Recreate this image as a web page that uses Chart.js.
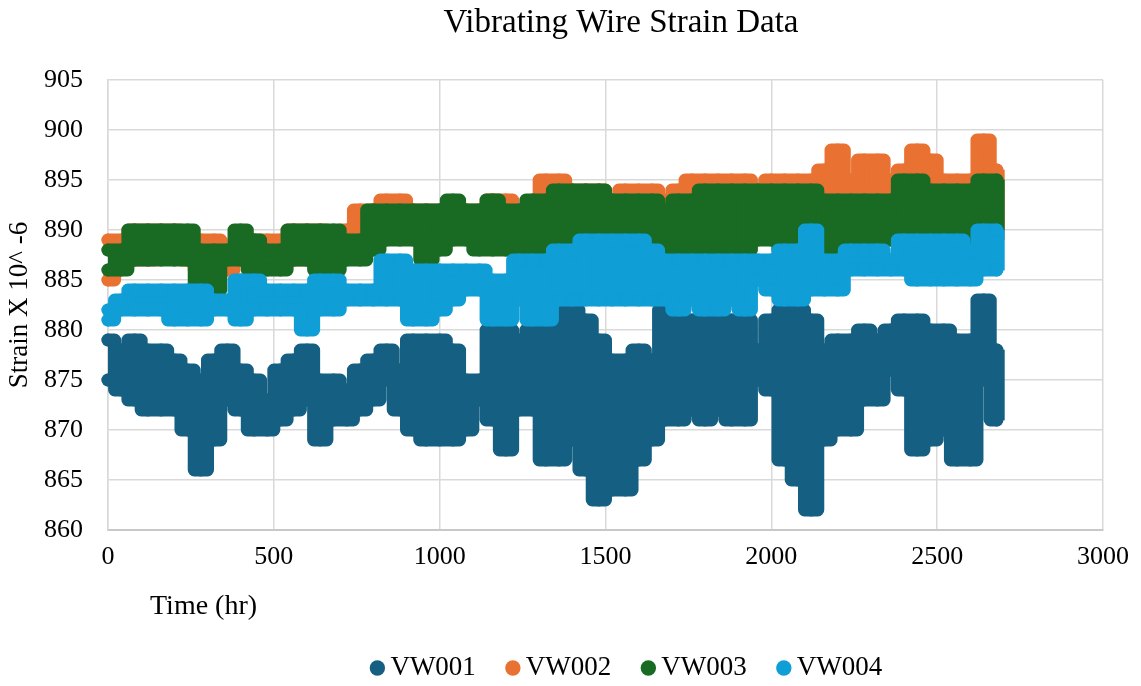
<!DOCTYPE html>
<html><head><meta charset="utf-8">
<script src="https://cdn.jsdelivr.net/npm/chart.js@4.4.1/dist/chart.umd.min.js"></script>
<style>html,body{margin:0;padding:0;background:#fff;}canvas{display:block;}</style>
</head><body>
<canvas id="c" width="1141" height="686"></canvas>
<script>
const chartTitle = 'Vibrating Wire Strain Data';
const xTitle = 'Time (hr)';
const yTitle = 'Strain X 10^ -6';
const seriesNames = ['VW001', 'VW002', 'VW003', 'VW004'];

// time (hr) of each envelope reading
const timeHr = [
0,40,80,120,160,200,240,280,320,360,
400,440,480,520,560,600,640,680,720,760,
800,840,880,920,960,1000,1040,1080,1120,1160,
1200,1240,1280,1320,1360,1400,1440,1480,1520,1560,
1600,1640,1680,1720,1760,1800,1840,1880,1920,1960,
2000,2040,2080,2120,2160,2200,2240,2280,2320,2360,
2400,2440,2480,2520,2560,2600,2640,2680];

// upper / lower readings of each gauge around each time
const vw001High = [
879,878,879,878,878,877,876,875,877,878,
876,875,873,876,877,878,875,875,874,876,
877,878,876,879,879,879,878,875,875,880,
880,879,880,881,882,882,881,879,877,877,
878,877,882,881,881,881,881,881,881,878,
881,882,882,881,878,879,879,880,879,880,
881,881,880,880,879,879,883,878];
const vw001Low = [
875,874,873,872,872,872,870,866,869,873,
872,870,870,871,872,873,869,871,871,872,
873,875,872,870,869,869,869,870,873,871,
868,872,872,867,867,869,866,863,864,864,
867,869,871,871,872,871,872,871,871,875,
874,867,865,862,869,870,870,873,873,876,
874,868,869,870,867,867,875,871];

const vw002High = [
889,889,890,890,890,890,889,889,889,888,
889,889,889,889,890,890,890,889,890,892,
892,893,893,892,892,892,892,892,892,893,
893,892,892,895,895,894,894,894,893,894,
894,894,893,894,895,895,895,895,895,894,
895,895,895,895,896,898,895,897,897,895,
896,898,897,895,895,895,899,896];
const vw002Low = [
885,887,887,887,888,888,887,886,886,886,
887,887,887,888,887,887,888,888,888,889,
889,890,890,890,889,889,890,890,890,890,
889,889,889,890,890,890,889,890,890,890,
890,890,889,890,890,890,890,890,890,891,
891,890,890,890,891,891,890,891,891,892,
891,892,891,891,891,890,891,889];

const vw003High = [
888,888,890,890,890,890,890,888,888,888,
890,889,888,888,890,890,890,890,889,889,
892,892,892,892,892,892,893,892,892,893,
892,892,893,893,894,894,894,894,893,893,
893,893,892,893,893,894,894,894,894,894,
894,894,894,894,893,893,893,893,893,893,
895,895,894,894,894,894,895,895];
const vw003Low = [
886,886,887,887,887,887,887,884,884,887,
887,886,886,886,887,887,886,886,887,887,
888,889,889,889,887,888,889,889,888,888,
888,888,887,887,888,888,888,888,889,889,
889,889,888,888,888,888,888,888,888,889,
889,888,888,889,888,888,887,889,889,889,
890,890,890,890,890,888,890,890];

const vw004High = [
882,883,884,884,884,884,884,884,883,883,
885,885,884,884,884,884,885,885,884,884,
884,887,887,886,886,886,886,886,886,885,
885,887,887,887,888,888,889,889,889,889,
889,888,887,887,887,887,887,887,887,887,
887,888,888,890,887,887,888,888,888,887,
889,889,889,889,889,888,890,890];
const vw004Low = [
881,882,882,882,882,881,881,881,882,882,
881,882,882,882,882,880,882,882,883,883,
883,883,883,881,881,882,883,884,884,881,
881,883,881,881,883,883,883,883,883,883,
883,883,883,882,883,882,882,883,882,885,
884,883,883,884,884,884,886,886,886,886,
886,885,885,885,885,885,886,886];

const xTicks = [0, 500, 1000, 1500, 2000, 2500, 3000];
const yTicks = [860, 865, 870, 875, 880, 885, 890, 895, 900, 905];

const colors = ['#156082', '#E97132', '#196B24', '#0F9ED5'];
const highs = [vw001High, vw002High, vw003High, vw004High];
const lows = [vw001Low, vw002Low, vw003Low, vw004Low];
const FONT = '"Liberation Serif", "Times New Roman", serif';

const datasets = [];
seriesNames.forEach((name, i) => {
  const lineBase = {
    type: 'line',
    showLine: true,
    stepped: 'middle',
    fill: false,
    borderColor: colors[i],
    backgroundColor: colors[i],
    borderWidth: 13,
    borderJoinStyle: 'round',
    borderCapStyle: 'round',
    pointRadius: 6.5,
    pointBorderWidth: 0,
    pointBackgroundColor: colors[i],
    pointHoverRadius: 6.5,
    clip: false
  };
  // spread of readings between the low and high envelope
  datasets.push({
    type: 'bar',
    label: name + ' range',
    data: timeHr.map((t, k) => ({x: t, y: [lows[i][k], highs[i][k]]})),
    backgroundColor: colors[i],
    borderWidth: 0,
    borderSkipped: false,
    grouped: false,
    barThickness: 15,
    order: 12 - 3 * i
  });
  datasets.push(Object.assign({}, lineBase, {
    label: name + ' low',
    data: timeHr.map((t, k) => ({x: t, y: lows[i][k]})),
    order: 11 - 3 * i
  }));
  datasets.push(Object.assign({}, lineBase, {
    label: name,
    data: timeHr.map((t, k) => ({x: t, y: highs[i][k]})),
    order: 10 - 3 * i
  }));
});

const decorations = {
  id: 'decorations',
  afterDraw(chart) {
    const ctx = chart.ctx, a = chart.chartArea;
    ctx.save();
    ctx.fillStyle = '#000';
    ctx.font = '33px ' + FONT;
    ctx.textAlign = 'center';
    ctx.textBaseline = 'middle';
    ctx.fillText(chartTitle, 621, 23);
    ctx.font = '28px ' + FONT;
    ctx.textAlign = 'left';
    ctx.fillText(xTitle, a.left + 42, a.bottom + 77);
    ctx.font = '27px ' + FONT;
    const r = 7.7, gapText = 13, gapItem = 37;
    const widths = seriesNames.map(n => ctx.measureText(n).width);
    let total = r;
    widths.forEach((w, i) => { total += gapText + w + (i < widths.length - 1 ? gapItem : 0); });
    let x = 626 - total / 2 + r;
    const ly = 668;
    seriesNames.forEach((n, i) => {
      ctx.fillStyle = colors[i];
      ctx.beginPath(); ctx.arc(x, ly, r, 0, Math.PI * 2); ctx.fill();
      ctx.fillStyle = '#000';
      ctx.fillText(n, x + gapText, ly);
      x += gapText + widths[i] + gapItem;
    });
    ctx.font = '27px ' + FONT;
    ctx.translate(20, (a.top + a.bottom) / 2);
    ctx.rotate(-Math.PI / 2);
    ctx.textAlign = 'center';
    ctx.fillText(yTitle, 0, 0);
    ctx.restore();
  }
};

new Chart(document.getElementById('c'), {
  type: 'line',
  data: { datasets },
  plugins: [decorations],
  options: {
    responsive: false,
    animation: false,
    devicePixelRatio: 1,
    layout: { padding: { left: 0, right: 34, top: 80, bottom: 0 } },
    plugins: {
      title: { display: false },
      legend: { display: false },
      tooltip: { enabled: false }
    },
    scales: {
      x: {
        type: 'linear', min: 0, max: 3000, offset: false,
        afterBuildTicks: s => { s.ticks = xTicks.map(v => ({value: v})); },
        afterFit: s => { s.height = 156; },
        grid: { color: '#d9d9d9', lineWidth: 1.5, drawTicks: false, offset: false },
        border: { color: '#c8c8c8', width: 2 },
        ticks: { color: '#000', padding: 12, font: { family: FONT, size: 26 }, maxRotation: 0,
                 callback: v => String(v) }
      },
      y: {
        type: 'linear', min: 860, max: 905,
        afterBuildTicks: s => { s.ticks = yTicks.map(v => ({value: v})); },
        afterFit: s => { s.width = 108; },
        grid: { color: '#d9d9d9', lineWidth: 1.5, drawTicks: false },
        border: { color: '#d9d9d9', width: 1.5 },
        ticks: { color: '#000', padding: 25, font: { family: FONT, size: 26 }, callback: v => String(v) }
      }
    }
  }
});
</script>
</body></html>
